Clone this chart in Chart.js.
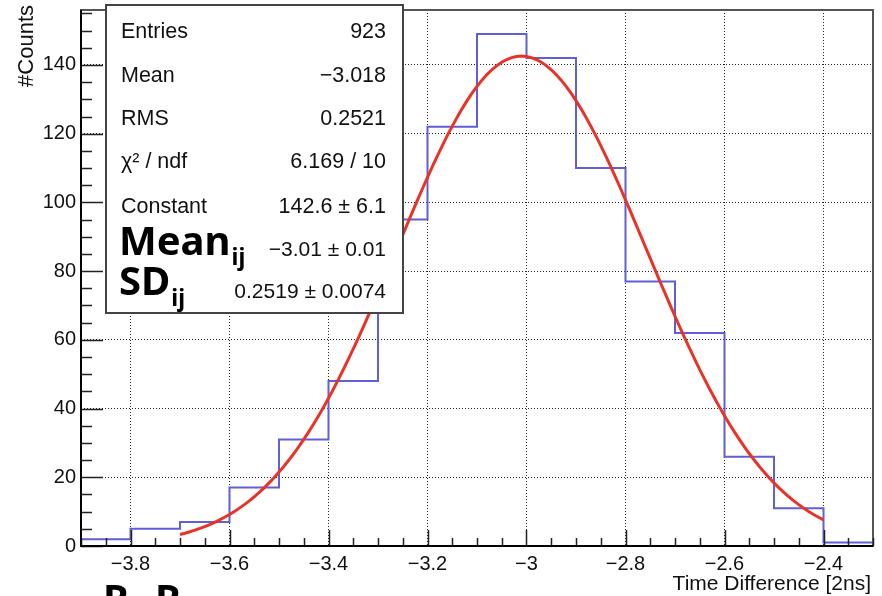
<!DOCTYPE html>
<html>
<head>
<meta charset="utf-8">
<script src="https://cdn.jsdelivr.net/npm/chart.js@4"></script>
<style>
  html, body { margin: 0; padding: 0; background: #fff; }
  #canvas { display: block; }
</style>
</head>
<body>
<canvas id="canvas" width="882" height="596"></canvas>
<script>
// histogram: low edge of each 0.1 wide bin and its count
const binLowEdges = [-3.9, -3.8, -3.7, -3.6, -3.5, -3.4, -3.3, -3.2, -3.1, -3.0, -2.9, -2.8, -2.7, -2.6, -2.5, -2.4];
const binCounts = [2, 5, 7, 17, 31, 48, 95, 122, 149, 142, 110, 77, 62, 26, 11, 1];
const binWidth = 0.1;

const xTicks = [-3.8, -3.6, -3.4, -3.2, -3.0, -2.8, -2.6, -2.4];
const yTicks = [0, 20, 40, 60, 80, 100, 120, 140];

// gaussian fit result (same numbers as in the stat box)
const fitConstant = 142.6;
const fitMean = -3.01;
const fitSigma = 0.2519;
const fitRange = [-3.7, -2.4];

const statLabels = ['Entries', 'Mean', 'RMS', 'χ² / ndf', 'Constant'];
const statValues = ['923', '\u22123.018', '0.2521', '6.169 / 10', '142.6 \u00b1 6.1'];
const fitNames = ['Mean', 'SD'];
const fitValues = ['\u22123.01 \u00b1 0.01', '0.2519 \u00b1 0.0074'];

const FONT = '"Liberation Sans", Arial, sans-serif';
const BOLD = '"Noto Sans", "Open Sans", sans-serif';

// step points: one per low edge, plus the upper edge of the last bin
const histPoints = binLowEdges.map((x, i) => ({ x: x, y: binCounts[i] }));
histPoints.push({ x: binLowEdges[binLowEdges.length - 1] + binWidth, y: binCounts[binCounts.length - 1] });

const fitPoints = [];
const nFit = 130;
for (let k = 0; k <= nFit; k++) {
    const x = fitRange[0] + (fitRange[1] - fitRange[0]) * k / nFit;
    const z = (x - fitMean) / fitSigma;
    fitPoints.push({ x: x, y: fitConstant * Math.exp(-0.5 * z * z) });
}

function fmtTick(v) {
    return Number(v.toFixed(1)).toString().replace('-', '\u2212');
}

// ROOT style frame, inner tick marks, stat box and axis titles
const rootDecor = {
    id: 'rootDecor',
    afterDatasetsDraw(chart) {
        const { ctx, chartArea: a, scales: { x, y } } = chart;
        ctx.save();

        ctx.strokeStyle = '#555';
        ctx.lineWidth = 2;
        ctx.strokeRect(a.left, a.top, a.right - a.left, a.bottom - a.top);

        // tick marks pointing into the plot
        ctx.strokeStyle = '#222';
        ctx.lineWidth = 1.5;
        ctx.beginPath();
        for (let k = 0; ; k++) {
            const v = x.min + k * 0.05;
            if (v > x.max + 1e-9) break;
            const major = xTicks.some(t => Math.abs(t - v) < 1e-6);
            const px = Math.round(x.getPixelForValue(v)) + 0.5;
            ctx.moveTo(px, a.bottom);
            ctx.lineTo(px, a.bottom - (major ? 16 : 8));
        }
        for (let v = 0; v <= y.max; v += 5) {
            const major = v % 20 === 0;
            const py = Math.round(y.getPixelForValue(v)) + 0.5;
            ctx.moveTo(a.left, py);
            ctx.lineTo(a.left + (major ? 22 : 11), py);
        }
        ctx.stroke();

        // axes
        ctx.strokeStyle = '#000';
        ctx.lineWidth = 2;
        ctx.beginPath();
        ctx.moveTo(a.left, a.top);
        ctx.lineTo(a.left, a.bottom);
        ctx.lineTo(a.right, a.bottom);
        ctx.stroke();

        // stat box
        const bx = 106, by = 5, bw = 297, bh = 308;
        ctx.fillStyle = '#fff';
        ctx.fillRect(bx, by, bw, bh);
        ctx.strokeStyle = '#444';
        ctx.lineWidth = 2;
        ctx.strokeRect(bx, by, bw, bh);

        ctx.fillStyle = '#111';
        ctx.textBaseline = 'alphabetic';
        ctx.font = '21.5px ' + FONT;
        const rowBase = [38, 82, 125, 168, 213];
        statLabels.forEach((s, i) => {
            ctx.textAlign = 'left';
            ctx.fillText(s, 121, rowBase[i]);
            ctx.textAlign = 'right';
            ctx.fillText(statValues[i], 386, rowBase[i]);
        });

        const bigBase = [255, 295];
        const subBase = [265, 306];
        const valBase = [256, 298];
        fitNames.forEach((s, i) => {
            ctx.textAlign = 'left';
            ctx.fillStyle = '#000';
            ctx.font = 'bold 40px ' + BOLD;
            ctx.fillText(s, 119, bigBase[i]);
            const w = ctx.measureText(s).width;
            ctx.font = 'bold 23px ' + BOLD;
            ctx.fillText('ij', 119 + w + 1, subBase[i]);
            ctx.fillStyle = '#111';
            ctx.font = '21px ' + FONT;
            ctx.textAlign = 'right';
            ctx.fillText(fitValues[i], 386, valBase[i]);
        });

        // axis titles
        ctx.fillStyle = '#111';
        ctx.font = '21px ' + FONT;
        ctx.textAlign = 'right';
        ctx.fillText('Time Difference [2ns]', 871, 590);

        ctx.save();
        ctx.translate(33, 5);
        ctx.rotate(-Math.PI / 2);
        ctx.textAlign = 'right';
        ctx.font = '22px ' + FONT;
        ctx.fillText('#Counts', 0, 0);
        ctx.restore();

        // panel caption below the axis
        ctx.fillStyle = '#000';
        ctx.textAlign = 'left';
        ctx.font = 'bold 40px ' + BOLD;
        ctx.fillText('R', 103, 613);
        ctx.fillText('R', 155, 613);

        ctx.restore();
    }
};

const config = {
    type: 'line',
    data: {
        datasets: [
            {
                label: 'fit',
                data: fitPoints,
                borderColor: 'rgb(232, 52, 40)',
                borderWidth: 3,
                pointRadius: 0,
                fill: false
            },
            {
                label: 'hist',
                data: histPoints,
                borderColor: 'rgb(95, 95, 215)',
                borderWidth: 2,
                stepped: 'before',
                pointRadius: 0,
                fill: false
            }
        ]
    },
    options: {
        responsive: false,
        animation: false,
        devicePixelRatio: 1,
        layout: { padding: { top: 10, right: 9, left: 0, bottom: 0 } },
        plugins: { legend: { display: false }, tooltip: { enabled: false } },
        scales: {
            x: {
                type: 'linear',
                min: -3.9,
                max: -2.3,
                afterBuildTicks: s => { s.ticks = xTicks.map(v => ({ value: v })); },
                afterFit: s => { s.height = 50; s.paddingLeft = 0; s.paddingRight = 0; },
                grid: { color: 'rgba(0,0,0,0.85)', lineWidth: 1, drawTicks: false },
                border: { display: false, dash: [1, 2] },
                ticks: {
                    padding: 6,
                    color: '#111',
                    font: { family: FONT, size: 20 },
                    maxRotation: 0,
                    autoSkip: false,
                    callback: fmtTick
                }
            },
            y: {
                min: 0,
                max: 156,
                afterBuildTicks: s => { s.ticks = yTicks.map(v => ({ value: v })); },
                afterFit: s => { s.width = 81; s.paddingTop = 0; s.paddingBottom = 0; },
                grid: { color: 'rgba(0,0,0,0.85)', lineWidth: 1, drawTicks: false },
                border: { display: false, dash: [1, 2] },
                ticks: {
                    padding: 5,
                    color: '#111',
                    font: { family: FONT, size: 20 },
                    autoSkip: false,
                    callback: v => String(v)
                }
            }
        }
    },
    plugins: [rootDecor]
};

const chart = new Chart(document.getElementById('canvas').getContext('2d'), config);
</script>
</body>
</html>
